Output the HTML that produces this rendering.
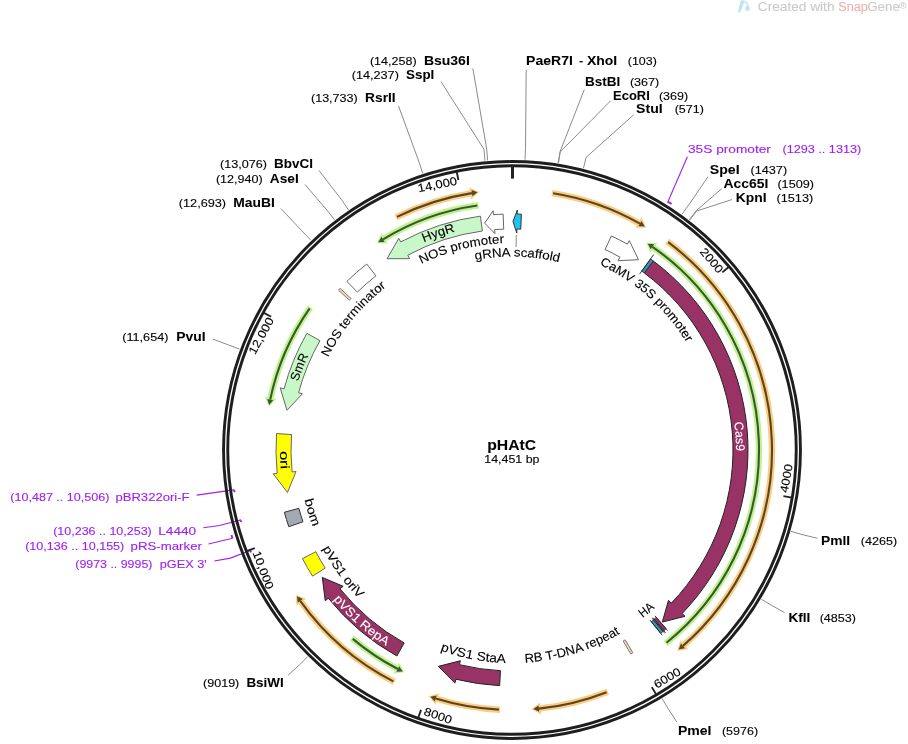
<!DOCTYPE html>
<html><head><meta charset="utf-8"><style>
html,body{margin:0;padding:0;background:#fff;width:908px;height:744px;overflow:hidden}
svg{display:block;will-change:transform}
text{font-family:"Liberation Sans", sans-serif;stroke:currentColor;stroke-width:0.12px}
text[font-weight=bold]{stroke-width:0.05px}
</style></head><body>
<svg width="908" height="744" viewBox="0 0 908 744" font-family='"Liberation Sans", sans-serif'><defs><path id="tp1" d="M423.81,242.24 A225.70,225.70 0 0 1 455.11,231.59"/><path id="tp2" d="M298.13,381.74 A224.50,224.50 0 0 1 308.37,355.48"/><path id="tp3" d="M734.28,422.31 A224.00,224.00 0 0 1 736.00,451.17"/><path id="tp4" d="M421.26,263.95 A207.00,207.00 0 0 1 504.05,243.15"/><path id="tp5" d="M475.41,259.99 A193.50,193.50 0 0 1 558.98,262.29"/><path id="tp6" d="M599.61,264.66 A205.00,205.00 0 0 1 686.60,342.58"/><path id="tp7" d="M327.97,357.44 A206.00,206.00 0 0 1 386.31,286.79"/><path id="tp8" d="M280.00,451.21 A232.00,232.00 0 0 0 280.81,469.41"/><path id="tp9" d="M304.40,499.84 A213.50,213.50 0 0 0 312.81,526.86"/><path id="tp10" d="M322.62,548.58 A213.50,213.50 0 0 0 358.68,598.58"/><path id="tp11" d="M333.25,599.46 A233.00,233.00 0 0 0 385.95,645.96"/><path id="tp12" d="M440.20,650.53 A213.00,213.00 0 0 0 505.68,662.91"/><path id="tp13" d="M525.00,662.60 A213.00,213.00 0 0 0 620.11,633.53"/><path id="tp14" d="M642.84,618.07 A213.00,213.00 0 0 0 654.80,608.04"/></defs><path d="M551.91,193.08 A260.00,260.00 0 0 1 639.96,223.67" fill="none" stroke="#fdcd7d" stroke-width="6.4"/>
<path d="M641.31,217.54 L646.35,227.40 L635.47,228.03 Z" fill="#fdcd7d"/>
<path d="M553.09,193.27 A260.00,260.00 0 0 1 639.96,223.67" fill="none" stroke="#574529" stroke-width="2.1"/>
<path d="M641.49,220.97 L644.80,226.48 L638.43,226.37 Z" fill="#574529"/>
<path d="M667.20,241.40 A260.00,260.00 0 0 1 682.98,645.87" fill="none" stroke="#fdcd7d" stroke-width="6.4"/>
<path d="M688.31,649.18 L677.33,650.66 L680.35,640.19 Z" fill="#fdcd7d"/>
<path d="M668.16,242.12 A260.00,260.00 0 0 1 682.98,645.87" fill="none" stroke="#574529" stroke-width="2.1"/>
<path d="M685.02,648.21 L678.72,649.51 L680.94,643.54 Z" fill="#574529"/>
<path d="M607.76,691.72 A260.00,260.00 0 0 1 538.90,708.61" fill="none" stroke="#fdcd7d" stroke-width="6.4"/>
<path d="M541.35,714.38 L531.53,709.27 L540.02,702.45 Z" fill="#fdcd7d"/>
<path d="M606.64,692.16 A260.00,260.00 0 0 1 538.90,708.61" fill="none" stroke="#574529" stroke-width="2.1"/>
<path d="M539.22,711.69 L533.32,709.12 L538.58,705.52 Z" fill="#574529"/>
<path d="M500.07,709.73 A260.00,260.00 0 0 1 435.71,698.56" fill="none" stroke="#fdcd7d" stroke-width="6.4"/>
<path d="M435.72,704.83 L428.67,696.28 L439.16,693.33 Z" fill="#fdcd7d"/>
<path d="M498.87,709.67 A260.00,260.00 0 0 1 435.71,698.56" fill="none" stroke="#574529" stroke-width="2.1"/>
<path d="M434.80,701.52 L430.38,696.86 L436.62,695.59 Z" fill="#574529"/>
<path d="M394.41,681.89 A260.00,260.00 0 0 1 300.22,600.83" fill="none" stroke="#fdcd7d" stroke-width="6.4"/>
<path d="M296.40,605.80 L296.01,594.74 L306.13,598.77 Z" fill="#fdcd7d"/>
<path d="M393.34,681.34 A260.00,260.00 0 0 1 300.22,600.83" fill="none" stroke="#574529" stroke-width="2.1"/>
<path d="M297.69,602.63 L297.02,596.23 L302.74,599.03 Z" fill="#574529"/>
<path d="M395.90,217.36 A260.00,260.00 0 0 1 471.96,193.10" fill="none" stroke="#fdcd7d" stroke-width="6.4"/>
<path d="M469.22,187.46 L479.29,192.07 L471.15,199.31 Z" fill="#fdcd7d"/>
<path d="M396.98,216.83 A260.00,260.00 0 0 1 471.96,193.10" fill="none" stroke="#574529" stroke-width="2.1"/>
<path d="M471.49,190.04 L477.51,192.30 L472.44,196.16 Z" fill="#574529"/>
<path d="M665.58,643.45 A247.00,247.00 0 0 0 652.45,246.82" fill="none" stroke="#bdf58c" stroke-width="6.4"/>
<path d="M657.37,242.93 L646.30,242.70 L650.48,252.76 Z" fill="#bdf58c"/>
<path d="M666.52,642.70 A247.00,247.00 0 0 0 652.45,246.82" fill="none" stroke="#3d5533" stroke-width="2.1"/>
<path d="M654.21,244.27 L647.80,243.68 L650.68,249.37 Z" fill="#3d5533"/>
<path d="M351.87,638.06 A247.00,247.00 0 0 0 397.78,669.01" fill="none" stroke="#bdf58c" stroke-width="6.4"/>
<path d="M393.38,673.47 L404.39,672.33 L399.00,662.87 Z" fill="#bdf58c"/>
<path d="M352.78,638.84 A247.00,247.00 0 0 0 397.78,669.01" fill="none" stroke="#3d5533" stroke-width="2.1"/>
<path d="M396.35,671.75 L402.78,671.54 L399.22,666.26 Z" fill="#3d5533"/>
<path d="M310.35,307.36 A247.00,247.00 0 0 0 270.20,399.60" fill="none" stroke="#bdf58c" stroke-width="6.4"/>
<path d="M264.71,396.57 L268.80,406.87 L276.43,399.11 Z" fill="#bdf58c"/>
<path d="M309.66,308.34 A247.00,247.00 0 0 0 270.20,399.60" fill="none" stroke="#3d5533" stroke-width="2.1"/>
<path d="M267.16,398.97 L269.12,405.10 L273.23,400.23 Z" fill="#3d5533"/>
<path d="M478.54,205.28 A247.00,247.00 0 0 0 383.07,239.32" fill="none" stroke="#bdf58c" stroke-width="6.4"/>
<path d="M381.51,233.25 L376.81,243.28 L387.70,243.53 Z" fill="#bdf58c"/>
<path d="M477.35,205.44 A247.00,247.00 0 0 0 383.07,239.32" fill="none" stroke="#3d5533" stroke-width="2.1"/>
<path d="M381.45,236.68 L378.32,242.30 L384.68,241.97 Z" fill="#3d5533"/>
<path d="M480.38,216.13 A236.00,236.00 0 0 0 400.68,241.91 L398.79,238.38 L387.02,258.71 L409.64,258.66 L407.75,255.13 A221.00,221.00 0 0 1 482.39,230.99 Z" fill="#c8f8c8" stroke="#666" stroke-width="1.0" stroke-linejoin="miter"/>
<path d="M503.15,214.17 A236.00,236.00 0 0 0 493.44,214.73 L493.13,210.74 L484.67,223.14 L494.94,233.67 L494.62,229.68 A221.00,221.00 0 0 1 503.71,229.16 Z" fill="#fff" stroke="#666" stroke-width="1.0" stroke-linejoin="miter"/>
<path d="M521.39,214.19 A236.00,236.00 0 0 0 517.21,214.06 L517.30,210.06 L513.00,221.50 L516.79,233.05 L516.88,229.05 A221.00,221.00 0 0 1 520.79,229.17 Z" fill="#1ec4f0" stroke="#333" stroke-width="1.0" stroke-linejoin="miter"/>
<path d="M611.36,235.94 A236.00,236.00 0 0 1 627.35,244.11 L629.31,240.62 L638.52,259.72 L618.06,260.69 L620.02,257.20 A221.00,221.00 0 0 0 605.05,249.54 Z" fill="#fff" stroke="#666" stroke-width="1.0" stroke-linejoin="miter"/>
<path d="M653.27,260.95 A236.00,236.00 0 0 1 682.18,613.51 L685.06,616.28 L662.30,622.11 L668.48,600.35 L671.36,603.12 A221.00,221.00 0 0 0 644.29,272.97 Z" fill="#993366" stroke="#222" stroke-width="1.0" stroke-linejoin="miter"/>
<path d="M650.55,258.95 A236.00,236.00 0 0 1 653.27,260.95 L644.29,272.97 A221.00,221.00 0 0 0 641.74,271.09 Z" fill="#3296b4" stroke="#222" stroke-width="0.8" stroke-linejoin="miter"/>
<path d="M666.05,628.79 A236.00,236.00 0 0 1 663.86,630.65 L654.20,619.17 A221.00,221.00 0 0 0 656.26,617.42 Z" fill="#a8306e" stroke="#222" stroke-width="0.8" stroke-linejoin="miter"/>
<path d="M663.07,631.31 A236.00,236.00 0 0 1 660.68,633.28 L651.23,621.63 A221.00,221.00 0 0 0 653.46,619.79 Z" fill="#3296b4" stroke="#222" stroke-width="0.8" stroke-linejoin="miter"/>
<path d="M639.57,274.09 L653.78,254.50" fill="none" stroke="#222" stroke-width="0.9"/>
<path d="M654.95,615.91 L667.68,630.68" fill="none" stroke="#222" stroke-width="0.9"/>
<path d="M652.92,617.64 L665.46,632.57" fill="none" stroke="#222" stroke-width="0.9"/>
<path d="M652.18,618.25 L664.67,633.24" fill="none" stroke="#222" stroke-width="0.9"/>
<path d="M649.97,620.07 L662.25,635.22" fill="none" stroke="#222" stroke-width="0.9"/>
<path d="M516.32,235.04 L516.07,247.04" fill="none" stroke="#888" stroke-width="1.0"/>
<path d="M632.84,652.71 A236.00,236.00 0 0 1 630.71,653.97 L623.17,641.00 A221.00,221.00 0 0 0 625.16,639.83 Z" fill="#f3d9b1" stroke="#777" stroke-width="1.0" stroke-linejoin="miter"/>
<path d="M499.65,685.68 A236.00,236.00 0 0 1 455.85,679.22 L454.89,683.11 L438.44,666.34 L460.37,660.77 L459.42,664.65 A221.00,221.00 0 0 0 500.43,670.70 Z" fill="#993366" stroke="#222" stroke-width="1.0" stroke-linejoin="miter"/>
<path d="M396.87,656.01 A236.00,236.00 0 0 1 328.35,598.22 L325.23,600.73 L322.32,577.41 L343.13,586.28 L340.02,588.79 A221.00,221.00 0 0 0 404.18,642.92 Z" fill="#993366" stroke="#222" stroke-width="1.0" stroke-linejoin="miter"/>
<path d="M312.52,576.11 A236.00,236.00 0 0 1 302.48,558.61 L315.79,551.70 A221.00,221.00 0 0 0 325.20,568.09 Z" fill="#ffff00" stroke="#666" stroke-width="1.0" stroke-linejoin="miter"/>
<path d="M288.80,526.68 A236.00,236.00 0 0 1 284.36,512.27 L298.83,508.32 A221.00,221.00 0 0 0 302.99,521.80 Z" fill="#a2a9b2" stroke="#333" stroke-width="1.0" stroke-linejoin="miter"/>
<path d="M276.57,433.54 A236.00,236.00 0 0 0 277.16,473.42 L273.18,473.82 L287.48,492.46 L296.07,471.53 L292.09,471.93 A221.00,221.00 0 0 1 291.54,434.58 Z" fill="#ffff00" stroke="#666" stroke-width="1.0" stroke-linejoin="miter"/>
<path d="M306.90,333.25 A236.00,236.00 0 0 0 284.06,388.86 L280.19,387.82 L286.97,410.32 L302.41,393.78 L298.55,392.75 A221.00,221.00 0 0 1 319.94,340.67 Z" fill="#c8f8c8" stroke="#666" stroke-width="1.0" stroke-linejoin="miter"/>
<path d="M338.42,290.11 A236.00,236.00 0 0 1 340.10,288.30 L351.03,298.57 A221.00,221.00 0 0 0 349.45,300.27 Z" fill="#f3d9b1" stroke="#777" stroke-width="1.0" stroke-linejoin="miter"/>
<path d="M346.88,281.38 A236.00,236.00 0 0 1 366.70,264.03 L375.94,275.85 A221.00,221.00 0 0 0 357.37,292.10 Z" fill="#fff" stroke="#666" stroke-width="1.0" stroke-linejoin="miter"/>
<path d="M687.40,156.80 L667.90,201.70" fill="none" stroke="#a020f0" stroke-width="1.1"/>
<path d="M667.60,201.60 L671.60,203.90" fill="none" stroke="#a020f0" stroke-width="1.9"/>
<path d="M196.70,495.10 L225.10,491.10 L233.40,489.80" fill="none" stroke="#a020f0" stroke-width="1.1"/>
<path d="M233.20,489.60 L235.00,492.00" fill="none" stroke="#a020f0" stroke-width="1.9"/>
<path d="M203.30,527.80 L219.60,525.50 L239.60,520.20" fill="none" stroke="#a020f0" stroke-width="1.1"/>
<path d="M239.60,519.60 L241.60,522.00" fill="none" stroke="#a020f0" stroke-width="1.9"/>
<path d="M208.50,544.00 L232.40,538.20" fill="none" stroke="#a020f0" stroke-width="1.1"/>
<path d="M232.50,538.60 L231.50,535.00" fill="none" stroke="#a020f0" stroke-width="1.9"/>
<path d="M214.40,561.00 L230.30,558.10 L250.30,550.60" fill="none" stroke="#a020f0" stroke-width="1.1"/>
<path d="M250.00,550.20 L251.20,552.40" fill="none" stroke="#a020f0" stroke-width="1.9"/>
<circle cx="512.0" cy="450.0" r="288.45" fill="none" stroke="#1e1e1e" stroke-width="2.9"/>
<circle cx="512.0" cy="450.0" r="284.25" fill="none" stroke="#1e1e1e" stroke-width="2.9"/>
<line x1="512.5" y1="165.5" x2="512.5" y2="178.6" stroke="#222" stroke-width="3"/>
<line x1="728.99" y1="266.78" x2="722.35" y2="272.39" stroke="#222" stroke-width="1.9"/>
<text transform="rotate(49.82 512.0 450.0)" x="510.5" y="179.1" font-size="11.6" fill="#000" color="#000" text-anchor="end" textLength="29.0" lengthAdjust="spacingAndGlyphs">2000</text>
<line x1="791.98" y1="497.59" x2="783.41" y2="496.13" stroke="#222" stroke-width="1.9"/>
<text transform="rotate(-80.35 512.0 450.0)" x="515.5" y="729.2" font-size="11.6" fill="#000" color="#000" textLength="29.0" lengthAdjust="spacingAndGlyphs">4000</text>
<line x1="656.27" y1="694.63" x2="651.85" y2="687.13" stroke="#222" stroke-width="1.9"/>
<text transform="rotate(-30.53 512.0 450.0)" x="515.5" y="729.2" font-size="11.6" fill="#000" color="#000" textLength="29.0" lengthAdjust="spacingAndGlyphs">6000</text>
<line x1="418.16" y1="718.05" x2="421.04" y2="709.84" stroke="#222" stroke-width="1.9"/>
<text transform="rotate(19.29 512.0 450.0)" x="515.5" y="729.2" font-size="11.6" fill="#000" color="#000" textLength="29.0" lengthAdjust="spacingAndGlyphs">8000</text>
<line x1="246.65" y1="551.23" x2="254.78" y2="548.13" stroke="#222" stroke-width="1.9"/>
<text transform="rotate(69.12 512.0 450.0)" x="515.5" y="729.2" font-size="11.6" fill="#000" color="#000" textLength="39.9" lengthAdjust="spacingAndGlyphs">10,000</text>
<line x1="263.47" y1="312.57" x2="271.08" y2="316.78" stroke="#222" stroke-width="1.9"/>
<text transform="rotate(298.94 512.0 450.0)" x="510.5" y="179.1" font-size="11.6" fill="#000" color="#000" text-anchor="end" textLength="39.9" lengthAdjust="spacingAndGlyphs">12,000</text>
<line x1="456.67" y1="171.44" x2="458.36" y2="179.98" stroke="#222" stroke-width="1.9"/>
<text transform="rotate(348.76 512.0 450.0)" x="510.5" y="179.1" font-size="11.6" fill="#000" color="#000" text-anchor="end" textLength="39.9" lengthAdjust="spacingAndGlyphs">14,000</text>
<path d="M487.64,160.42 L486.69,149.06 L472.90,68.50" fill="none" stroke="#8a8a8a" stroke-width="1.0"/>
<path d="M485.00,160.66 L483.94,149.31 L441.00,81.60" fill="none" stroke="#8a8a8a" stroke-width="1.0"/>
<path d="M422.75,173.45 L419.25,162.60 L398.50,105.90" fill="none" stroke="#8a8a8a" stroke-width="1.0"/>
<path d="M525.01,159.69 L525.52,148.30 L526.20,69.70" fill="none" stroke="#8a8a8a" stroke-width="1.0"/>
<path d="M558.17,163.09 L559.99,151.84 L584.30,89.60" fill="none" stroke="#8a8a8a" stroke-width="1.0"/>
<path d="M558.42,163.13 L560.24,151.88 L610.70,100.70" fill="none" stroke="#8a8a8a" stroke-width="1.0"/>
<path d="M583.41,168.31 L586.21,157.26 L633.70,114.80" fill="none" stroke="#8a8a8a" stroke-width="1.0"/>
<path d="M681.98,214.30 L688.65,205.05 L708.00,176.70" fill="none" stroke="#8a8a8a" stroke-width="1.0"/>
<path d="M689.28,219.74 L696.23,210.70 L721.60,188.80" fill="none" stroke="#8a8a8a" stroke-width="1.0"/>
<path d="M689.68,220.04 L696.65,211.02 L732.10,199.50" fill="none" stroke="#8a8a8a" stroke-width="1.0"/>
<path d="M348.43,209.80 L342.02,200.38 L319.00,170.50" fill="none" stroke="#8a8a8a" stroke-width="1.0"/>
<path d="M334.52,219.89 L327.56,210.86 L305.00,184.50" fill="none" stroke="#8a8a8a" stroke-width="1.0"/>
<path d="M310.88,240.24 L302.99,232.01 L280.90,208.60" fill="none" stroke="#8a8a8a" stroke-width="1.0"/>
<path d="M239.49,349.08 L228.80,345.12 L212.80,339.00" fill="none" stroke="#8a8a8a" stroke-width="1.0"/>
<path d="M307.67,656.63 L299.65,664.74 L288.10,675.10" fill="none" stroke="#8a8a8a" stroke-width="1.0"/>
<path d="M790.99,531.31 L801.94,534.50 L817.40,538.30" fill="none" stroke="#8a8a8a" stroke-width="1.0"/>
<path d="M761.36,599.22 L771.14,605.08 L784.50,612.60" fill="none" stroke="#8a8a8a" stroke-width="1.0"/>
<path d="M662.22,698.76 L668.12,708.52 L676.70,721.90" fill="none" stroke="#8a8a8a" stroke-width="1.0"/>
<text x="369.9" y="65.0" font-size="11.5" fill="#000" color="#000" textLength="46.7" lengthAdjust="spacingAndGlyphs">(14,258)</text>
<text x="423.9" y="65.0" font-size="12.4" font-weight="bold" fill="#000" color="#000" textLength="45.9" lengthAdjust="spacingAndGlyphs">Bsu36I</text>
<text x="351.7" y="78.5" font-size="11.5" fill="#000" color="#000" textLength="47.2" lengthAdjust="spacingAndGlyphs">(14,237)</text>
<text x="406.0" y="78.5" font-size="12.4" font-weight="bold" fill="#000" color="#000" textLength="28.3" lengthAdjust="spacingAndGlyphs">SspI</text>
<text x="311.0" y="101.9" font-size="11.5" fill="#000" color="#000" textLength="46.7" lengthAdjust="spacingAndGlyphs">(13,733)</text>
<text x="365.1" y="101.9" font-size="12.4" font-weight="bold" fill="#000" color="#000" textLength="30.6" lengthAdjust="spacingAndGlyphs">RsrII</text>
<text x="220.0" y="167.8" font-size="11.5" fill="#000" color="#000" textLength="46.9" lengthAdjust="spacingAndGlyphs">(13,076)</text>
<text x="274.0" y="167.8" font-size="12.4" font-weight="bold" fill="#000" color="#000" textLength="38.9" lengthAdjust="spacingAndGlyphs">BbvCI</text>
<text x="215.9" y="183.1" font-size="11.5" fill="#000" color="#000" textLength="46.8" lengthAdjust="spacingAndGlyphs">(12,940)</text>
<text x="269.8" y="183.1" font-size="12.4" font-weight="bold" fill="#000" color="#000" textLength="28.9" lengthAdjust="spacingAndGlyphs">AseI</text>
<text x="178.8" y="206.5" font-size="11.5" fill="#000" color="#000" textLength="47.3" lengthAdjust="spacingAndGlyphs">(12,693)</text>
<text x="233.2" y="206.5" font-size="12.4" font-weight="bold" fill="#000" color="#000" textLength="41.6" lengthAdjust="spacingAndGlyphs">MauBI</text>
<text x="122.3" y="340.7" font-size="11.5" fill="#000" color="#000" textLength="46.1" lengthAdjust="spacingAndGlyphs">(11,654)</text>
<text x="176.3" y="340.7" font-size="12.4" font-weight="bold" fill="#000" color="#000" textLength="29.3" lengthAdjust="spacingAndGlyphs">PvuI</text>
<text x="203.0" y="686.5" font-size="11.5" fill="#000" color="#000" textLength="36.3" lengthAdjust="spacingAndGlyphs">(9019)</text>
<text x="246.4" y="686.5" font-size="12.4" font-weight="bold" fill="#000" color="#000" textLength="37.3" lengthAdjust="spacingAndGlyphs">BsiWI</text>
<text x="584.9" y="85.8" font-size="12.4" font-weight="bold" fill="#000" color="#000" textLength="35.3" lengthAdjust="spacingAndGlyphs">BstBI</text>
<text x="629.9" y="85.8" font-size="11.5" fill="#000" color="#000" textLength="29.4" lengthAdjust="spacingAndGlyphs">(367)</text>
<text x="613.0" y="99.5" font-size="12.4" font-weight="bold" fill="#000" color="#000" textLength="36.8" lengthAdjust="spacingAndGlyphs">EcoRI</text>
<text x="658.9" y="99.5" font-size="11.5" fill="#000" color="#000" textLength="29.2" lengthAdjust="spacingAndGlyphs">(369)</text>
<text x="636.1" y="113.4" font-size="12.4" font-weight="bold" fill="#000" color="#000" textLength="26.6" lengthAdjust="spacingAndGlyphs">StuI</text>
<text x="674.7" y="113.4" font-size="11.5" fill="#000" color="#000" textLength="29.2" lengthAdjust="spacingAndGlyphs">(571)</text>
<text x="709.8" y="173.8" font-size="12.4" font-weight="bold" fill="#000" color="#000" textLength="29.8" lengthAdjust="spacingAndGlyphs">SpeI</text>
<text x="750.5" y="173.8" font-size="11.5" fill="#000" color="#000" textLength="36.6" lengthAdjust="spacingAndGlyphs">(1437)</text>
<text x="723.6" y="187.8" font-size="12.4" font-weight="bold" fill="#000" color="#000" textLength="44.8" lengthAdjust="spacingAndGlyphs">Acc65I</text>
<text x="777.4" y="187.8" font-size="11.5" fill="#000" color="#000" textLength="36.6" lengthAdjust="spacingAndGlyphs">(1509)</text>
<text x="735.7" y="201.6" font-size="12.4" font-weight="bold" fill="#000" color="#000" textLength="30.8" lengthAdjust="spacingAndGlyphs">KpnI</text>
<text x="776.4" y="201.6" font-size="11.5" fill="#000" color="#000" textLength="36.9" lengthAdjust="spacingAndGlyphs">(1513)</text>
<text x="821.0" y="544.9" font-size="12.4" font-weight="bold" fill="#000" color="#000" textLength="29.2" lengthAdjust="spacingAndGlyphs">PmlI</text>
<text x="860.8" y="544.9" font-size="11.5" fill="#000" color="#000" textLength="36.4" lengthAdjust="spacingAndGlyphs">(4265)</text>
<text x="788.4" y="621.5" font-size="12.4" font-weight="bold" fill="#000" color="#000" textLength="21.9" lengthAdjust="spacingAndGlyphs">KflI</text>
<text x="819.7" y="621.5" font-size="11.5" fill="#000" color="#000" textLength="36.3" lengthAdjust="spacingAndGlyphs">(4853)</text>
<text x="677.9" y="734.7" font-size="12.4" font-weight="bold" fill="#000" color="#000" textLength="33.6" lengthAdjust="spacingAndGlyphs">PmeI</text>
<text x="721.9" y="734.7" font-size="11.5" fill="#000" color="#000" textLength="36.2" lengthAdjust="spacingAndGlyphs">(5976)</text>
<text x="526.1" y="65.0" font-size="12.4" font-weight="bold" fill="#000" color="#000" textLength="46.8" lengthAdjust="spacingAndGlyphs">PaeR7I</text>
<text x="579.0" y="65.0" font-size="12" fill="#000" color="#000" textLength="4.2" lengthAdjust="spacingAndGlyphs">-</text>
<text x="586.9" y="65.0" font-size="12.4" font-weight="bold" fill="#000" color="#000" textLength="30.3" lengthAdjust="spacingAndGlyphs">XhoI</text>
<text x="627.8" y="65.0" font-size="11.5" fill="#000" color="#000" textLength="29.0" lengthAdjust="spacingAndGlyphs">(103)</text>
<text x="688.0" y="153.2" font-size="11.5" fill="#a020f0" color="#a020f0" textLength="82.9" lengthAdjust="spacingAndGlyphs">35S promoter</text>
<text x="782.5" y="153.2" font-size="11.5" fill="#a020f0" color="#a020f0" textLength="78.7" lengthAdjust="spacingAndGlyphs">(1293 .. 1313)</text>
<text x="10.3" y="500.9" font-size="11.5" fill="#a020f0" color="#a020f0" textLength="99.1" lengthAdjust="spacingAndGlyphs">(10,487 .. 10,506)</text>
<text x="115.4" y="500.9" font-size="11.5" fill="#a020f0" color="#a020f0" textLength="74.2" lengthAdjust="spacingAndGlyphs">pBR322ori-F</text>
<text x="53.2" y="535.0" font-size="11.5" fill="#a020f0" color="#a020f0" textLength="98.6" lengthAdjust="spacingAndGlyphs">(10,236 .. 10,253)</text>
<text x="158.3" y="535.0" font-size="11.5" fill="#a020f0" color="#a020f0" textLength="37.9" lengthAdjust="spacingAndGlyphs">L4440</text>
<text x="25.2" y="550.4" font-size="11.5" fill="#a020f0" color="#a020f0" textLength="99.1" lengthAdjust="spacingAndGlyphs">(10,136 .. 10,155)</text>
<text x="130.6" y="550.4" font-size="11.5" fill="#a020f0" color="#a020f0" textLength="71.3" lengthAdjust="spacingAndGlyphs">pRS-marker</text>
<text x="75.3" y="568.2" font-size="11.5" fill="#a020f0" color="#a020f0" textLength="77.1" lengthAdjust="spacingAndGlyphs">(9973 .. 9995)</text>
<text x="159.8" y="568.2" font-size="11.5" fill="#a020f0" color="#a020f0" textLength="47.0" lengthAdjust="spacingAndGlyphs">pGEX 3'</text>
<text x="487.2" y="449.8" font-size="14.0" font-weight="bold" fill="#000" color="#000" textLength="49.0" lengthAdjust="spacingAndGlyphs">pHAtC</text>
<text x="484.3" y="462.7" font-size="11.5" fill="#000" color="#000" textLength="55.2" lengthAdjust="spacingAndGlyphs">14,451 bp</text>
<text font-size="12.5" fill="#000" color="#000"><textPath href="#tp1" textLength="33.1" lengthAdjust="spacingAndGlyphs">HygR</textPath></text>
<text font-size="12.5" fill="#000" color="#000"><textPath href="#tp2" textLength="28.2" lengthAdjust="spacingAndGlyphs">SmR</textPath></text>
<text font-size="12.5" fill="#fff" color="#fff"><textPath href="#tp3" textLength="28.9" lengthAdjust="spacingAndGlyphs">Cas9</textPath></text>
<text font-size="12.5" fill="#000" color="#000"><textPath href="#tp4" textLength="86.0" lengthAdjust="spacingAndGlyphs">NOS promoter</textPath></text>
<text font-size="12.5" fill="#000" color="#000"><textPath href="#tp5" textLength="84.3" lengthAdjust="spacingAndGlyphs">gRNA scaffold</textPath></text>
<text font-size="12.5" fill="#000" color="#000"><textPath href="#tp6" textLength="118.4" lengthAdjust="spacingAndGlyphs">CaMV 35S promoter</textPath></text>
<text font-size="12.5" fill="#000" color="#000"><textPath href="#tp7" textLength="92.4" lengthAdjust="spacingAndGlyphs">NOS terminator</textPath></text>
<text font-size="12.5" fill="#000" color="#000"><textPath href="#tp8" textLength="18.2" lengthAdjust="spacingAndGlyphs">ori</textPath></text>
<text font-size="12.5" fill="#000" color="#000"><textPath href="#tp9" textLength="28.3" lengthAdjust="spacingAndGlyphs">bom</textPath></text>
<text font-size="12.5" fill="#000" color="#000"><textPath href="#tp10" textLength="61.9" lengthAdjust="spacingAndGlyphs">pVS1 oriV</textPath></text>
<text font-size="12.5" fill="#fff" color="#fff"><textPath href="#tp11" textLength="70.6" lengthAdjust="spacingAndGlyphs">pVS1 RepA</textPath></text>
<text font-size="12.5" fill="#000" color="#000"><textPath href="#tp12" textLength="66.9" lengthAdjust="spacingAndGlyphs">pVS1 StaA</textPath></text>
<text font-size="12.5" fill="#000" color="#000"><textPath href="#tp13" textLength="100.4" lengthAdjust="spacingAndGlyphs">RB T-DNA repeat</textPath></text>
<text font-size="12.5" fill="#000" color="#000"><textPath href="#tp14" textLength="15.6" lengthAdjust="spacingAndGlyphs">HA</textPath></text>
<g opacity="1">
<path d="M738.2,12.9 C738.6,8.5 739.6,3.5 740.9,0 L744.6,0.4 C743.5,4.5 741.8,9 740.1,12.4 Z" fill="#c0e4f3"/>
<path d="M744.2,1.3 C746.3,2.2 747.6,3.8 747.9,6.0" fill="none" stroke="#c0e4f3" stroke-width="1.3"/>
<ellipse cx="747.6" cy="8.3" rx="2.3" ry="2.6" fill="#c0e4f3"/>
</g>
<text x="757.8" y="11.2" font-size="12" fill="#cbcbcb" color="#cbcbcb" textLength="76.7" lengthAdjust="spacingAndGlyphs">Created with</text>
<text x="838.2" y="11.2" font-size="12" fill="#ebb0b0" color="#ebb0b0" textLength="29.7" lengthAdjust="spacingAndGlyphs">Snap</text>
<text x="867.2" y="11.2" font-size="12" fill="#cbcbcb" color="#cbcbcb" textLength="32.7" lengthAdjust="spacingAndGlyphs">Gene</text>
<text x="899.3" y="9.0" font-size="9.5" fill="#cbcbcb" color="#cbcbcb">®</text></svg>
</body></html>
